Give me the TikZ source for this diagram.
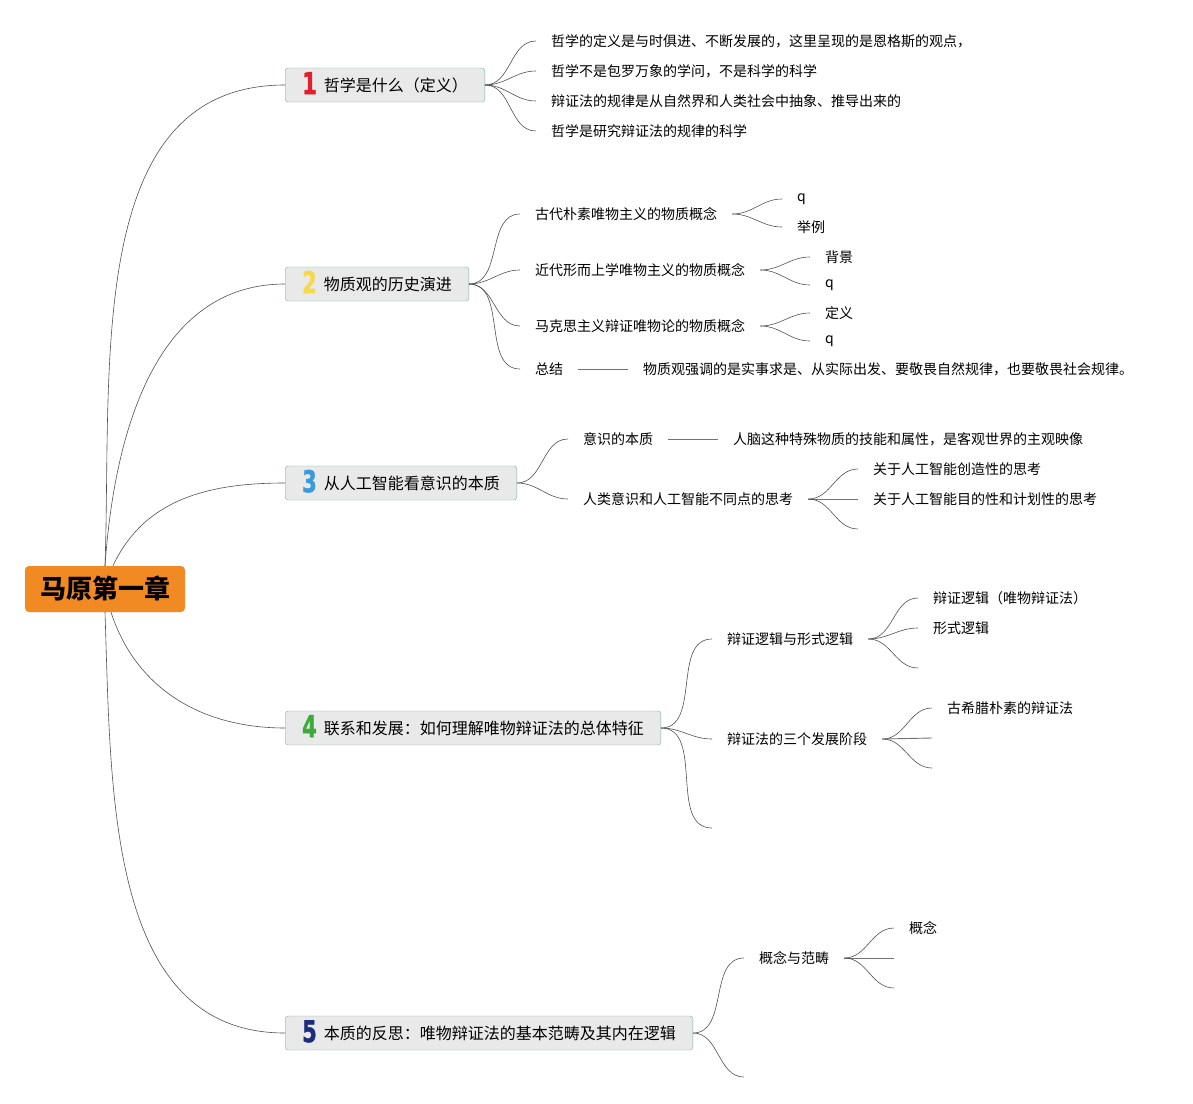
\documentclass[tikz,border=0pt]{standalone}
\usepackage{fontspec}
\usepackage{xcolor}
\newfontfamily\cjk{Noto Sans CJK SC}
\newfontfamily\numfont[FakeBold=1.5]{DejaVu Sans}
\definecolor{rootorange}{HTML}{F28A24}
\definecolor{topicfill}{HTML}{E8E9E8}
\definecolor{topicedge}{HTML}{7FB09E}
\definecolor{numred}{HTML}{E0202F}
\definecolor{numyellow}{HTML}{F6D84A}
\definecolor{numblue}{HTML}{3A9BDC}
\definecolor{numgreen}{HTML}{3DAA3A}
\definecolor{numnavy}{HTML}{1E2C80}
\definecolor{linegray}{HTML}{505050}
\newcommand{\topicnum}[2]{\smash{\raisebox{-3pt}{\numfont\bfseries\fontsize{30}{30}\selectfont\color{#1}\scalebox{0.7}[1]{#2}}}\hspace{7pt}}
\tikzset{
    root-box/.style = {fill=rootorange, rectangle, rounded corners=4pt, minimum width=160pt, minimum height=46pt, font=\cjk\bfseries\fontsize{26}{26}\selectfont},
    topic-box/.style = {draw=topicedge, fill=topicfill, thin, rectangle, rounded corners=3pt, anchor=west, minimum height=34pt, inner xsep=17pt, inner ysep=0pt, font=\cjk\fontsize{16}{16}\selectfont},
    leaf-text/.style = {anchor=west, inner xsep=15pt, inner ysep=2pt, font=\cjk\fontsize{14}{14}\selectfont},
    branch-line/.style = {draw=linegray, line width=0.6pt},
    flat-line/.style = {draw=linegray!80, line width=0.9pt},
}

\begin{document}
\begin{tikzpicture}[x=1pt, y=-1pt]
\useasboundingbox (0,0) rectangle (1193,1103);

% centre and main topics
\node[root-box] (root) at (105,589) {马原第一章};
\node[topic-box] (t1) at (285,85) {\topicnum{numred}{1}哲学是什么（定义）};
\node[topic-box] (t2) at (285,284) {\topicnum{numyellow}{2}物质观的历史演进};
\node[topic-box] (t3) at (285,483) {\topicnum{numblue}{3}从人工智能看意识的本质};
\node[topic-box] (t4) at (285,728) {\topicnum{numgreen}{4}联系和发展：如何理解唯物辩证法的总体特征};
\node[topic-box] (t5) at (285,1033) {\topicnum{numnavy}{5}本质的反思：唯物辩证法的基本范畴及其内在逻辑};

\draw[branch-line] (root.north) to[out=88,in=180] (t1.west);
\draw[branch-line] (root.north) to[out=86,in=180] (t2.west);
\draw[branch-line] ([xshift=8pt]root.north) to[out=65,in=180] (t3.west);
\draw[branch-line] ([xshift=6pt]root.south) to[out=-72,in=180] (t4.west);
\draw[branch-line] (root.south) to[out=-88,in=180] (t5.west);

% 1
\node[leaf-text] (a1) at (536,41) {哲学的定义是与时俱进、不断发展的，这里呈现的是恩格斯的观点，};
\node[leaf-text] (a2) at (536,71) {哲学不是包罗万象的学问，不是科学的科学};
\node[leaf-text] (a3) at (536,101) {辩证法的规律是从自然界和人类社会中抽象、推导出来的};
\node[leaf-text] (a4) at (536,131) {哲学是研究辩证法的规律的科学};
\foreach \k in {a1,a2,a3,a4}
    \draw[branch-line] (t1.east) to[out=0,in=180] (\k.west);

% 2
\node[leaf-text] (b1) at (520,214) {古代朴素唯物主义的物质概念};
\node[leaf-text] (b2) at (520,270) {近代形而上学唯物主义的物质概念};
\node[leaf-text] (b3) at (520,326) {马克思主义辩证唯物论的物质概念};
\node[leaf-text] (b4) at (520,369) {总结};
\foreach \k in {b1,b2,b3,b4}
    \draw[branch-line] (t2.east) to[out=0,in=180] (\k.west);

\node[leaf-text] (b11) at (782,199) {q};
\node[leaf-text] (b12) at (782,227) {举例};
\node[leaf-text] (b21) at (810,257) {背景};
\node[leaf-text] (b22) at (810,285) {q};
\node[leaf-text] (b31) at (810,313) {定义};
\node[leaf-text] (b32) at (810,341) {q};
\node[leaf-text] (b41) at (628,369) {物质观强调的是实事求是、从实际出发、要敬畏自然规律，也要敬畏社会规律。};
\draw[branch-line] (b1.east) to[out=0,in=180] (b11.west);
\draw[branch-line] (b1.east) to[out=0,in=180] (b12.west);
\draw[branch-line] (b2.east) to[out=0,in=180] (b21.west);
\draw[branch-line] (b2.east) to[out=0,in=180] (b22.west);
\draw[branch-line] (b3.east) to[out=0,in=180] (b31.west);
\draw[branch-line] (b3.east) to[out=0,in=180] (b32.west);
\draw[flat-line] (b4.east) -- (b41.west);

% 3
\node[leaf-text] (c1) at (568,439) {意识的本质};
\node[leaf-text] (c2) at (568,499) {人类意识和人工智能不同点的思考};
\draw[branch-line] (t3.east) to[out=0,in=180] (c1.west);
\draw[branch-line] (t3.east) to[out=0,in=180] (c2.west);
\node[leaf-text] (c11) at (718,439) {人脑这种特殊物质的技能和属性，是客观世界的主观映像};
\draw[flat-line] (c1.east) -- (c11.west);
\node[leaf-text] (c21) at (858,469) {关于人工智能创造性的思考};
\node[leaf-text] (c22) at (858,499) {关于人工智能目的性和计划性的思考};
\coordinate (c23) at (858,529);
\draw[branch-line] (c2.east) to[out=0,in=180] (c21.west);
\draw[flat-line] (c2.east) -- (c22.west);
\draw[branch-line] (c2.east) to[out=0,in=180] (c23);

% 4
\node[leaf-text] (d1) at (712,639) {辩证逻辑与形式逻辑};
\node[leaf-text] (d2) at (712,739) {辩证法的三个发展阶段};
\coordinate (d3) at (712,828);
\draw[branch-line] (t4.east) to[out=0,in=180] (d1.west);
\draw[branch-line] (t4.east) to[out=0,in=180] (d2.west);
\draw[branch-line] (t4.east) to[out=0,in=180] (d3);

\node[leaf-text] (d11) at (918,598) {辩证逻辑（唯物辩证法）};
\node[leaf-text] (d12) at (918,628) {形式逻辑};
\coordinate (d13) at (918,668);
\draw[branch-line] (d1.east) to[out=0,in=180] (d11.west);
\draw[branch-line] (d1.east) to[out=0,in=180] (d12.west);
\draw[branch-line] (d1.east) to[out=0,in=180] (d13);

\node[leaf-text] (d21) at (932,708) {古希腊朴素的辩证法};
\coordinate (d22) at (932,738);
\coordinate (d23) at (932,768);
\draw[branch-line] (d2.east) to[out=0,in=180] (d21.west);
\draw[flat-line] (d2.east) -- (d22);
\draw[branch-line] (d2.east) to[out=0,in=180] (d23);

% 5
\node[leaf-text] (e1) at (744,958) {概念与范畴};
\coordinate (e2) at (744,1077);
\draw[branch-line] (t5.east) to[out=0,in=180] (e1.west);
\draw[branch-line] (t5.east) to[out=0,in=180] (e2);

\node[leaf-text] (e11) at (894,928) {概念};
\coordinate (e12) at (894,958);
\coordinate (e13) at (894,988);
\draw[branch-line] (e1.east) to[out=0,in=180] (e11.west);
\draw[flat-line] (e1.east) -- (e12);
\draw[branch-line] (e1.east) to[out=0,in=180] (e13);
\end{tikzpicture}
\end{document}
